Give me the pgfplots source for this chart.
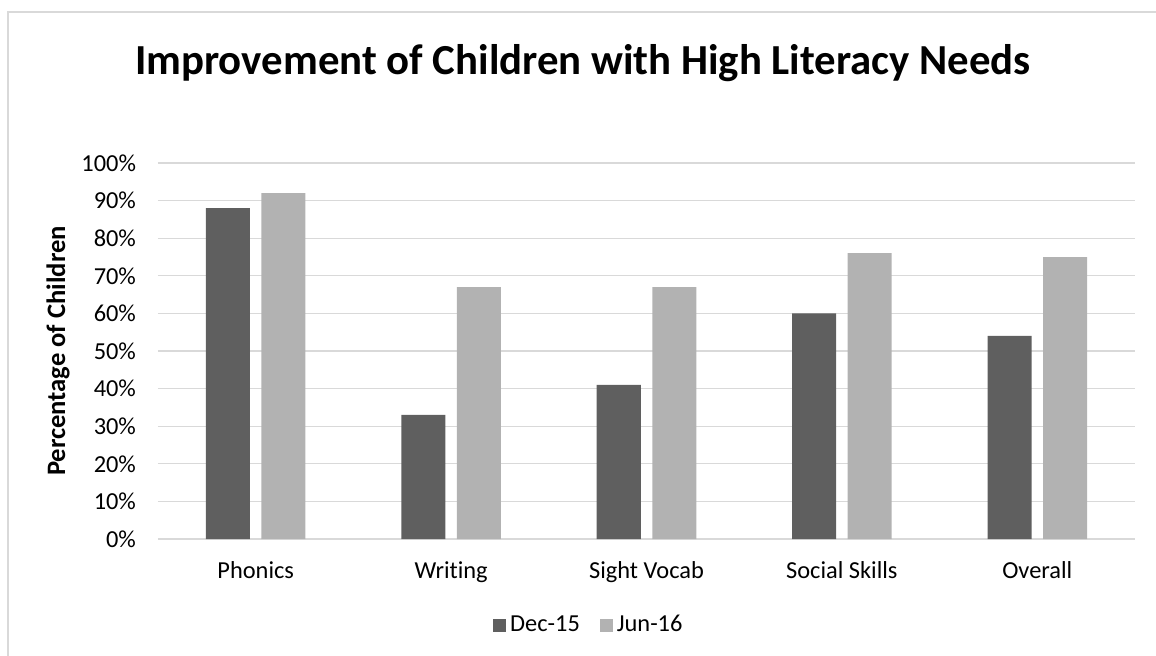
\documentclass[border=0pt]{standalone}
\usepackage{pgfplots}
\pgfplotsset{compat=1.18}
\usepackage{fontspec}
\setmainfont{Carlito}[Ligatures=NoCommon]
\definecolor{darkbar}{HTML}{5F5F5F}
\definecolor{lightbar}{HTML}{B2B2B2}
\definecolor{gridc}{HTML}{D9D9D9}
\begin{document}
\begin{tikzpicture}
\useasboundingbox (-79pt,-58pt) rectangle (499pt,269.5pt);
\draw[gridc, line width=0.6pt] (-75pt,-70pt) -- (-75pt,263.5pt) -- (510pt,263.5pt);
\begin{axis}[
  at={(0pt,0pt)}, anchor=south west,
  scale only axis,
  width=488.5pt, height=188pt,
  xmin=-0.5, xmax=4.5,
  ymin=0, ymax=100,
  ybar=5.75pt, bar width=22pt,
  xtick=data,
  xticklabels={Phonics, Writing, Sight Vocab, Social Skills, Overall},
  ytick={0,10,...,100},
  yticklabel={\pgfmathprintnumber[assume math mode=true]{\tick}\%},
  major tick length=0pt,
  axis line style={draw=none},
  ymajorgrids, grid style={gridc, line width=0.6pt},
  tick label style={font=\fontsize{12.2pt}{14pt}\selectfont, text=black},
  yticklabel style={xshift=-7.5pt},
  xticklabel style={anchor=north, text height=8.5pt, text depth=2.5pt, yshift=-7.5pt},
  title={Improvement of Children with High Literacy Needs},
  title style={at={(axis description cs:0.435,1.234)}, anchor=center, font=\fontsize{21.4pt}{25pt}\selectfont\bfseries},
  ylabel={Percentage of Children},
  ylabel style={at={(axis description cs:-0.1024,0.5)}, anchor=center, font=\fontsize{13.3pt}{15pt}\selectfont\bfseries},
  legend columns=2,
  legend style={draw=none, fill=none, at={(axis description cs:0.442,-0.229)}, anchor=center, font=\fontsize{12.2pt}{14pt}\selectfont, /tikz/every even column/.append style={column sep=8pt}},
  legend image code/.code={\fill[#1] (-1pt,-3.25pt) rectangle (5.5pt,3.25pt);},
]
\addplot[fill=darkbar, draw=none] coordinates {(0,88) (1,33) (2,41) (3,60) (4,54)};
\addplot[fill=lightbar, draw=none] coordinates {(0,92) (1,67) (2,67) (3,76) (4,75)};
\legend{Dec-15, Jun-16}
\end{axis}
\end{tikzpicture}
\end{document}
